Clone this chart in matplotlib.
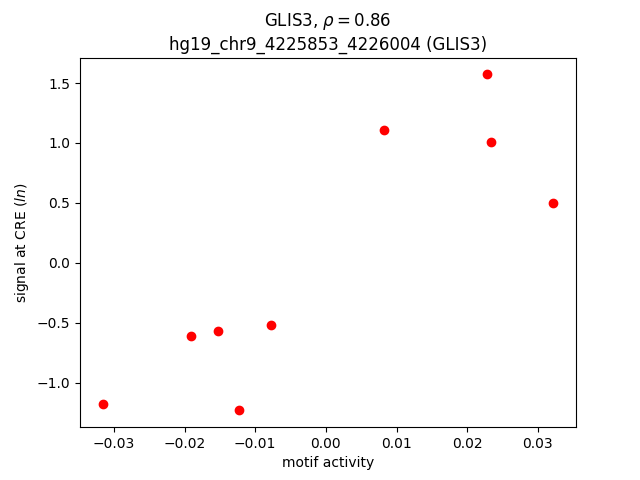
import matplotlib
matplotlib.use("Agg")
import matplotlib.pyplot as plt

motif_activity = [0.0228, 0.00826, 0.0233, 0.0322, -0.0077, -0.0152, -0.0191, -0.0316, -0.0123]
signal = [1.572, 1.105, 1.005, 0.50, -0.522, -0.572, -0.614, -1.18, -1.232]

fig, ax = plt.subplots(figsize=(6.4, 4.8), dpi=100)
ax.scatter(motif_activity, signal, color="red")
ax.set_xlabel("motif activity")
ax.set_ylabel("signal at CRE ($ln$)")
ax.set_title("GLIS3, $\\rho = 0.86$\nhg19_chr9_4225853_4226004 (GLIS3)")
fig.savefig("out.png", dpi=100)
